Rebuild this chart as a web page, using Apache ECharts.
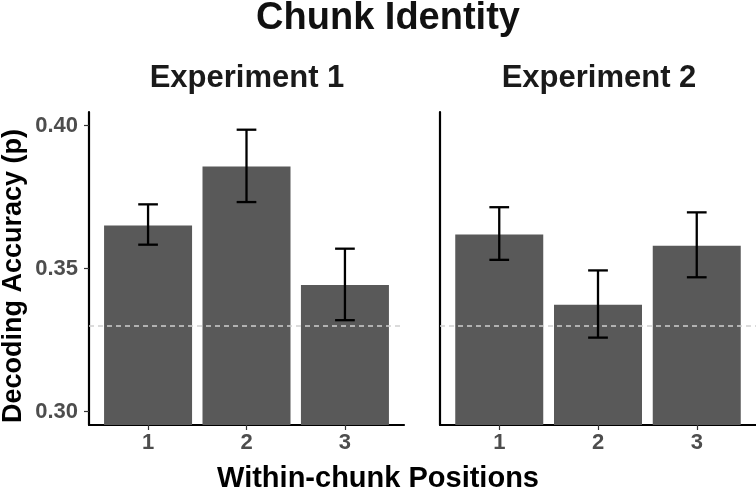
<!DOCTYPE html>
<html><head><meta charset="utf-8">
<script src="https://cdn.jsdelivr.net/npm/echarts@6/dist/echarts.min.js"></script>
<style>html,body{margin:0;padding:0;background:#fff}#c{width:756px;height:493px}</style>
</head><body><div id="c"></div>
<script>
const positions = [1, 2, 3];
const positionLabels = ['1', '2', '3'];
const exp1Mean = [0.3651, 0.3857, 0.3443];
const exp1Low  = [0.3584, 0.3733, 0.3320];
const exp1High = [0.3725, 0.3986, 0.3570];
const exp2Mean = [0.3620, 0.3374, 0.3580];
const exp2Low  = [0.3531, 0.3259, 0.3470];
const exp2High = [0.3715, 0.3494, 0.3697];
const chanceLevel = 0.33;
const yTicks = [0.30, 0.35, 0.40];
const panelTitles = ['Experiment 1', 'Experiment 2'];
const mainTitle = 'Chunk Identity';
const xTitle = 'Within-chunk Positions';
const yTitle = 'Decoding Accuracy (p)';

const FONT = "'Liberation Sans', Arial, Helvetica, sans-serif";
const chart = echarts.init(document.getElementById('c'), null, {renderer: 'canvas'});

function barData(mean) { return positions.map((p, i) => [p, mean[i]]); }
function errData(lo, hi) { return positions.map((p, i) => [p, lo[i], hi[i]]); }

function renderErr(params, api) {
  const x = api.value(0), lo = api.value(1), hi = api.value(2);
  const top = api.coord([x, hi]);
  const bot = api.coord([x, lo]);
  const hw = api.size([0.1, 0])[0];
  const style = {stroke: '#000', lineWidth: 2.3};
  return {type: 'group', children: [
    {type: 'line', shape: {x1: top[0], y1: top[1], x2: bot[0], y2: bot[1]}, style: style},
    {type: 'line', shape: {x1: top[0] - hw, y1: top[1], x2: top[0] + hw, y2: top[1]}, style: style},
    {type: 'line', shape: {x1: bot[0] - hw, y1: bot[1], x2: bot[0] + hw, y2: bot[1]}, style: style}
  ]};
}

const yMin = 0.29535, yMax = 0.40479;

function xAxisFor(gi) {
  return {
    type: 'value', gridIndex: gi, min: 0.4, max: 3.6,
    splitLine: {show: false},
    axisLine: {show: true, onZero: false, lineStyle: {color: '#000', width: 2.2}},
    axisTick: {show: true, length: 5, lineStyle: {color: '#333', width: 1.2}, customValues: positions},
    axisLabel: {show: true, customValues: positions, formatter: v => positionLabels[positions.indexOf(v)] || '',
      color: '#4d4d4d', fontWeight: 'bold', fontSize: 22, fontFamily: FONT, margin: 7}
  };
}
function yAxisFor(gi, labels) {
  return {
    type: 'value', gridIndex: gi, min: yMin, max: yMax,
    splitLine: {show: false},
    axisLine: {show: true, onZero: false, lineStyle: {color: '#000', width: 2.2}},
    axisTick: {show: labels, length: 5, lineStyle: {color: '#333', width: 1.2}, customValues: yTicks},
    axisLabel: {show: labels, customValues: yTicks, formatter: v => v.toFixed(2),
      color: '#4d4d4d', fontWeight: 'bold', fontSize: 22, fontFamily: FONT, margin: 11}
  };
}
function barSeries(gi, mean) {
  return {
    type: 'bar', xAxisIndex: gi, yAxisIndex: gi, data: barData(mean), barWidth: 88,
    itemStyle: {color: '#595959'}, silent: true, animation: false,
    markLine: {silent: true, symbol: 'none', label: {show: false}, animation: false,
      lineStyle: {color: '#cfcfcf', type: [5, 4], width: 1.5},
      data: [{yAxis: chanceLevel}]},
    z: 2
  };
}
function errSeries(gi, lo, hi) {
  return {type: 'custom', xAxisIndex: gi, yAxisIndex: gi, data: errData(lo, hi),
    renderItem: renderErr, clip: false, animation: false, silent: true, z: 5};
}

const option = {
  animation: false,
  backgroundColor: '#fff',
  grid: [
    {left: 89, top: 112, width: 315, height: 313},
    {left: 440, top: 112, width: 316, height: 313}
  ],
  xAxis: [xAxisFor(0), xAxisFor(1)],
  yAxis: [yAxisFor(0, true), yAxisFor(1, false)],
  series: [
    barSeries(0, exp1Mean), errSeries(0, exp1Low, exp1High),
    barSeries(1, exp2Mean), errSeries(1, exp2Low, exp2High)
  ],
  graphic: [
    {type: 'text', x: 388, y: 19, style: {text: mainTitle, font: "bold 38px " + FONT, fill: '#111', align: 'center', verticalAlign: 'middle'}},
    {type: 'text', x: 247, y: 78, style: {text: panelTitles[0], font: "bold 31px " + FONT, fill: '#1a1a1a', align: 'center', verticalAlign: 'middle'}},
    {type: 'text', x: 599, y: 78, style: {text: panelTitles[1], font: "bold 31px " + FONT, fill: '#1a1a1a', align: 'center', verticalAlign: 'middle'}},
    {type: 'text', x: 378, y: 479, style: {text: xTitle, font: "bold 29px " + FONT, fill: '#000', align: 'center', verticalAlign: 'middle'}},
    {type: 'text', x: 14, y: 276, rotation: Math.PI / 2, style: {text: yTitle, font: "bold 27px " + FONT, fill: '#000', align: 'center', verticalAlign: 'middle'}}
  ]
};
chart.setOption(option);
</script>
</body></html>
